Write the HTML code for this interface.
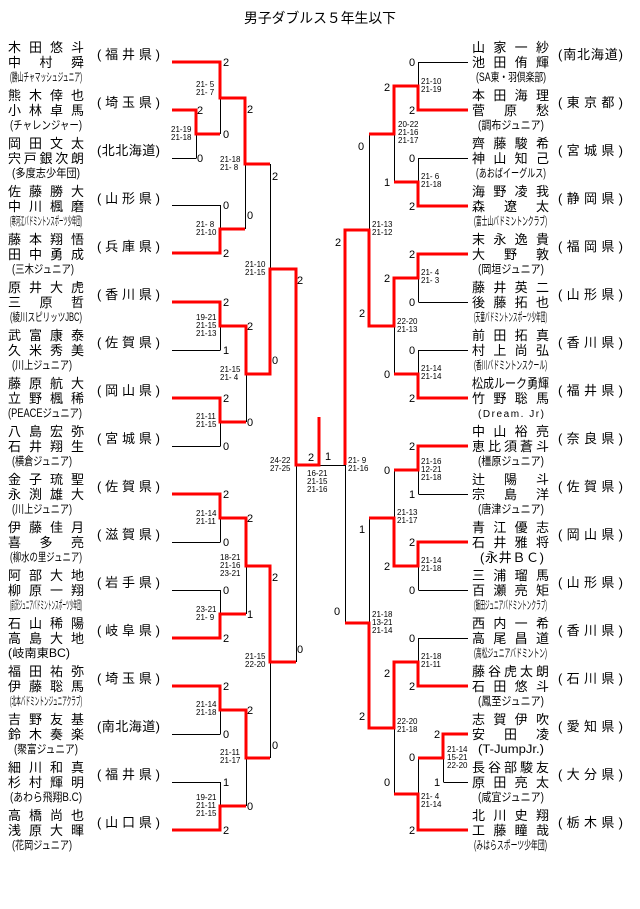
<!DOCTYPE html>
<html><head><meta charset="utf-8"><style>
html,body{margin:0;padding:0;background:#fff;width:640px;height:909px;overflow:hidden}
svg{display:block}
text{font-family:"Liberation Sans","Noto Sans CJK JP",sans-serif;fill:#000}
.n{font-size:13px}
.a{font-size:11.5px}
.p{font-size:13px}
.s{font-size:11px;text-anchor:middle}
.g{font-size:8px}
</style></head><body>
<svg width="640" height="909" viewBox="0 0 640 909" xmlns="http://www.w3.org/2000/svg">
<text x="244" y="23" font-size="14" textLength="152" lengthAdjust="spacingAndGlyphs">男子ダブルス５年生以下</text>

<path fill="none" stroke="#000" stroke-width="1" d="
M172 158.5H196.5 M196.5 134V158 M220.5 98V134 M172 205.5H220.5 M220.5 205V229 M245.5 164V229
M172 350.5H220.5 M220.5 326V350 M172 446.5H220.5 M220.5 422V446 M246.5 374V422 M270.5 164V269
M172 542.5H220.5 M220.5 518V542 M172 590.5H220.5 M220.5 590V614 M246.5 566V614
M172 734.5H220.5 M220.5 710V734 M172 782.5H220.5 M220.5 782V806 M246.5 758V806
M270.5 662V758 M296.5 465V662 M319 465.5H345
M468 62.5H418.5 M418.5 62V86 M468 158.5H418.5 M418.5 158V182 M394.5 134V182
M468 302.5H418.5 M418.5 278V302 M468 350.5H418.5 M418.5 350V374 M394.5 326V374 M369.5 134V230
M468 494.5H418.5 M418.5 470V494 M468 590.5H418.5 M418.5 566V590 M394.5 470V518
M468 638.5H418.5 M418.5 638V662 M468 782.5H443.5 M443.5 758V782 M418.5 758V794 M394.5 728V794
M369.5 518V623 M345.5 465V623"/>

<path fill="none" stroke="#f00" stroke-width="3" stroke-linejoin="miter" d="
M172 62H220V98H245V164H270
M172 110H196V134H220
M172 253H220V229H245
M172 302H220V326H246V374H270V269H296V465H319V417
M172 398H220V422H246
M172 494H220V518H246V566H270V662H296
M172 638H220V614H246
M172 686H220V710H246V758H270
M172 830H220V806H246
M468 110H418V86H394V134H369
M468 206H418V182H394
M468 254H418V278H394V326H369V230H345V465
M468 398H418V374H394
M468 446H418V470H394
M468 542H418V566H394V518H369
M468 686H418V662H394V728H369V623H345
M468 734H443V758H418
M468 830H418V794H394"/>

<g class="n">
<text x="8" y="52" textLength="76" lengthAdjust="spacing">木田悠斗</text><text x="8" y="67" textLength="76" lengthAdjust="spacing">中村舜</text>
<text x="8" y="100" textLength="76" lengthAdjust="spacing">熊木倖也</text><text x="8" y="115" textLength="76" lengthAdjust="spacing">小林卓馬</text>
<text x="8" y="148" textLength="76" lengthAdjust="spacing">岡田文太</text><text x="8" y="163" textLength="76" lengthAdjust="spacing">宍戸銀次朗</text>
<text x="8" y="196" textLength="76" lengthAdjust="spacing">佐藤勝大</text><text x="8" y="211" textLength="76" lengthAdjust="spacing">中川楓磨</text>
<text x="8" y="244" textLength="76" lengthAdjust="spacing">藤本翔悟</text><text x="8" y="259" textLength="76" lengthAdjust="spacing">田中勇成</text>
<text x="8" y="292" textLength="76" lengthAdjust="spacing">原井大虎</text><text x="8" y="307" textLength="76" lengthAdjust="spacing">三原哲</text>
<text x="8" y="340" textLength="76" lengthAdjust="spacing">武富康泰</text><text x="8" y="355" textLength="76" lengthAdjust="spacing">久米秀美</text>
<text x="8" y="388" textLength="76" lengthAdjust="spacing">藤原航大</text><text x="8" y="403" textLength="76" lengthAdjust="spacing">立野楓稀</text>
<text x="8" y="436" textLength="76" lengthAdjust="spacing">八島宏弥</text><text x="8" y="451" textLength="76" lengthAdjust="spacing">石井翔生</text>
<text x="8" y="484" textLength="76" lengthAdjust="spacing">金子琉聖</text><text x="8" y="499" textLength="76" lengthAdjust="spacing">永渕雄大</text>
<text x="8" y="532" textLength="76" lengthAdjust="spacing">伊藤佳月</text><text x="8" y="547" textLength="76" lengthAdjust="spacing">喜多亮</text>
<text x="8" y="580" textLength="76" lengthAdjust="spacing">阿部大地</text><text x="8" y="595" textLength="76" lengthAdjust="spacing">柳原一翔</text>
<text x="8" y="628" textLength="76" lengthAdjust="spacing">石山稀陽</text><text x="8" y="643" textLength="76" lengthAdjust="spacing">高島大地</text>
<text x="8" y="676" textLength="76" lengthAdjust="spacing">福田祐弥</text><text x="8" y="691" textLength="76" lengthAdjust="spacing">伊藤聡馬</text>
<text x="8" y="724" textLength="76" lengthAdjust="spacing">吉野友基</text><text x="8" y="739" textLength="76" lengthAdjust="spacing">鈴木奏楽</text>
<text x="8" y="772" textLength="76" lengthAdjust="spacing">細川和真</text><text x="8" y="787" textLength="76" lengthAdjust="spacing">杉村輝明</text>
<text x="8" y="820" textLength="76" lengthAdjust="spacing">高橋尚也</text><text x="8" y="835" textLength="76" lengthAdjust="spacing">浅原大暉</text>
</g>
<g class="a">
<text x="10" y="81" textLength="72" lengthAdjust="spacingAndGlyphs">(勝山チャマッシュジュニア)</text>
<text x="10" y="129" textLength="72" lengthAdjust="spacingAndGlyphs">(チャレンジャー)</text>
<text x="12" y="177" textLength="68" lengthAdjust="spacingAndGlyphs">(多度志少年団)</text>
<text x="10" y="225" textLength="72" lengthAdjust="spacingAndGlyphs">(寒河江バドミントンスポーツ少年団)</text>
<text x="12" y="273" textLength="62" lengthAdjust="spacingAndGlyphs">(三木ジュニア)</text>
<text x="10" y="321" textLength="72" lengthAdjust="spacingAndGlyphs">(綾川スピリッツJBC)</text>
<text x="12" y="369" textLength="60" lengthAdjust="spacingAndGlyphs">(川上ジュニア)</text>
<text x="8" y="417" textLength="74" lengthAdjust="spacingAndGlyphs">(PEACEジュニア)</text>
<text x="12" y="465" textLength="60" lengthAdjust="spacingAndGlyphs">(横倉ジュニア)</text>
<text x="12" y="513" textLength="60" lengthAdjust="spacingAndGlyphs">(川上ジュニア)</text>
<text x="10" y="561" textLength="72" lengthAdjust="spacingAndGlyphs">(柳水の里ジュニア)</text>
<text x="10" y="609" textLength="72" lengthAdjust="spacingAndGlyphs">(前沢ジュニアバドミントンスポーツ少年団)</text>
<text x="8" y="657" textLength="62" lengthAdjust="spacingAndGlyphs">(岐南東BC)</text>
<text x="10" y="705" textLength="72" lengthAdjust="spacingAndGlyphs">(北本バドミントンジュニアクラブ)</text>
<text x="14" y="753" textLength="64" lengthAdjust="spacingAndGlyphs">(聚富ジュニア)</text>
<text x="10" y="801" textLength="72" lengthAdjust="spacingAndGlyphs">(あわら飛翔B.C)</text>
<text x="12" y="849" textLength="60" lengthAdjust="spacingAndGlyphs">(花岡ジュニア)</text>
</g>
<g class="p">
<text x="97" y="59" textLength="63" lengthAdjust="spacing">(福井県)</text>
<text x="97" y="107" textLength="63" lengthAdjust="spacing">(埼玉県)</text>
<text x="97" y="155" textLength="63" lengthAdjust="spacing">(北北海道)</text>
<text x="97" y="203" textLength="63" lengthAdjust="spacing">(山形県)</text>
<text x="97" y="251" textLength="63" lengthAdjust="spacing">(兵庫県)</text>
<text x="97" y="299" textLength="63" lengthAdjust="spacing">(香川県)</text>
<text x="97" y="347" textLength="63" lengthAdjust="spacing">(佐賀県)</text>
<text x="97" y="395" textLength="63" lengthAdjust="spacing">(岡山県)</text>
<text x="97" y="443" textLength="63" lengthAdjust="spacing">(宮城県)</text>
<text x="97" y="491" textLength="63" lengthAdjust="spacing">(佐賀県)</text>
<text x="97" y="539" textLength="63" lengthAdjust="spacing">(滋賀県)</text>
<text x="97" y="587" textLength="63" lengthAdjust="spacing">(岩手県)</text>
<text x="97" y="635" textLength="63" lengthAdjust="spacing">(岐阜県)</text>
<text x="97" y="683" textLength="63" lengthAdjust="spacing">(埼玉県)</text>
<text x="97" y="731" textLength="63" lengthAdjust="spacing">(南北海道)</text>
<text x="97" y="779" textLength="63" lengthAdjust="spacing">(福井県)</text>
<text x="97" y="827" textLength="63" lengthAdjust="spacing">(山口県)</text>
</g>

<g class="n">
<text x="472" y="52" textLength="77" lengthAdjust="spacing">山家一紗</text><text x="472" y="67" textLength="77" lengthAdjust="spacing">池田侑輝</text>
<text x="472" y="100" textLength="77" lengthAdjust="spacing">本田海理</text><text x="472" y="115" textLength="77" lengthAdjust="spacing">菅原愁</text>
<text x="472" y="148" textLength="77" lengthAdjust="spacing">齊藤駿希</text><text x="472" y="163" textLength="77" lengthAdjust="spacing">神山知己</text>
<text x="472" y="196" textLength="77" lengthAdjust="spacing">海野凌我</text><text x="472" y="211" textLength="77" lengthAdjust="spacing">森遼太</text>
<text x="472" y="244" textLength="77" lengthAdjust="spacing">末永逸貴</text><text x="472" y="259" textLength="77" lengthAdjust="spacing">大野敦</text>
<text x="472" y="292" textLength="77" lengthAdjust="spacing">藤井英二</text><text x="472" y="307" textLength="77" lengthAdjust="spacing">後藤拓也</text>
<text x="472" y="340" textLength="77" lengthAdjust="spacing">前田拓真</text><text x="472" y="355" textLength="77" lengthAdjust="spacing">村上尚弘</text>
<text x="472" y="388" textLength="77" lengthAdjust="spacingAndGlyphs">松成ルーク勇輝</text><text x="472" y="403" textLength="77" lengthAdjust="spacing">竹野聡馬</text>
<text x="472" y="436" textLength="77" lengthAdjust="spacing">中山裕亮</text><text x="472" y="451" textLength="77" lengthAdjust="spacing">恵比須蒼斗</text>
<text x="472" y="484" textLength="77" lengthAdjust="spacing">辻陽斗</text><text x="472" y="499" textLength="77" lengthAdjust="spacing">宗島洋</text>
<text x="472" y="532" textLength="77" lengthAdjust="spacing">青江優志</text><text x="472" y="547" textLength="77" lengthAdjust="spacing">石井雅将</text>
<text x="472" y="580" textLength="77" lengthAdjust="spacing">三浦瑠馬</text><text x="472" y="595" textLength="77" lengthAdjust="spacing">百瀬亮矩</text>
<text x="472" y="628" textLength="77" lengthAdjust="spacing">西内一希</text><text x="472" y="643" textLength="77" lengthAdjust="spacing">高尾昌道</text>
<text x="472" y="676" textLength="77" lengthAdjust="spacing">藤谷虎太朗</text><text x="472" y="691" textLength="77" lengthAdjust="spacing">石田悠斗</text>
<text x="472" y="724" textLength="77" lengthAdjust="spacing">志賀伊吹</text><text x="472" y="739" textLength="77" lengthAdjust="spacing">安田凌</text>
<text x="472" y="772" textLength="77" lengthAdjust="spacing">長谷部駿友</text><text x="472" y="787" textLength="77" lengthAdjust="spacing">原田亮太</text>
<text x="472" y="820" textLength="77" lengthAdjust="spacing">北川史翔</text><text x="472" y="835" textLength="77" lengthAdjust="spacing">工藤瞳哉</text>
</g>
<g class="a">
<text x="476" y="81" textLength="70" lengthAdjust="spacingAndGlyphs">(SA東・羽倶楽部)</text>
<text x="478" y="129" textLength="66" lengthAdjust="spacingAndGlyphs">(調布ジュニア)</text>
<text x="476" y="177" textLength="70" lengthAdjust="spacingAndGlyphs">(あおばイーグルス)</text>
<text x="474" y="225" textLength="73" lengthAdjust="spacingAndGlyphs">(富士山バドミントンクラブ)</text>
<text x="478" y="273" textLength="66" lengthAdjust="spacingAndGlyphs">(岡垣ジュニア)</text>
<text x="474" y="321" textLength="73" lengthAdjust="spacingAndGlyphs">(天童バドミントンスポーツ少年団)</text>
<text x="474" y="369" textLength="73" lengthAdjust="spacingAndGlyphs">(香川バドミントンスクール)</text>
<text x="478" y="417" font-size="10" textLength="66" lengthAdjust="spacing">(Dream. Jr)</text>
<text x="478" y="465" textLength="66" lengthAdjust="spacingAndGlyphs">(橿原ジュニア)</text>
<text x="478" y="513" textLength="66" lengthAdjust="spacingAndGlyphs">(唐津ジュニア)</text>
<text x="480" y="562" font-size="13" textLength="64" lengthAdjust="spacing">(永井ＢＣ)</text>
<text x="474" y="609" textLength="73" lengthAdjust="spacingAndGlyphs">(飯田ジュニアバドミントンクラブ)</text>
<text x="474" y="657" textLength="73" lengthAdjust="spacingAndGlyphs">(高松ジュニアバドミントン)</text>
<text x="478" y="705" textLength="66" lengthAdjust="spacingAndGlyphs">(鳳至ジュニア)</text>
<text x="478" y="753" textLength="66" lengthAdjust="spacingAndGlyphs">(T-JumpJr.)</text>
<text x="478" y="801" textLength="66" lengthAdjust="spacingAndGlyphs">(咸宜ジュニア)</text>
<text x="474" y="849" textLength="73" lengthAdjust="spacingAndGlyphs">(みはらスポーツ少年団)</text>
</g>
<g class="p">
<text x="558" y="59" textLength="65" lengthAdjust="spacing">(南北海道)</text>
<text x="558" y="107" textLength="65" lengthAdjust="spacing">(東京都)</text>
<text x="558" y="155" textLength="65" lengthAdjust="spacing">(宮城県)</text>
<text x="558" y="203" textLength="65" lengthAdjust="spacing">(静岡県)</text>
<text x="558" y="251" textLength="65" lengthAdjust="spacing">(福岡県)</text>
<text x="558" y="299" textLength="65" lengthAdjust="spacing">(山形県)</text>
<text x="558" y="347" textLength="65" lengthAdjust="spacing">(香川県)</text>
<text x="558" y="395" textLength="65" lengthAdjust="spacing">(福井県)</text>
<text x="558" y="443" textLength="65" lengthAdjust="spacing">(奈良県)</text>
<text x="558" y="491" textLength="65" lengthAdjust="spacing">(佐賀県)</text>
<text x="558" y="539" textLength="65" lengthAdjust="spacing">(岡山県)</text>
<text x="558" y="587" textLength="65" lengthAdjust="spacing">(山形県)</text>
<text x="558" y="635" textLength="65" lengthAdjust="spacing">(香川県)</text>
<text x="558" y="683" textLength="65" lengthAdjust="spacing">(石川県)</text>
<text x="558" y="731" textLength="65" lengthAdjust="spacing">(愛知県)</text>
<text x="558" y="779" textLength="65" lengthAdjust="spacing">(大分県)</text>
<text x="558" y="827" textLength="65" lengthAdjust="spacing">(栃木県)</text>
</g>

<g class="s">
<text x="226" y="66">2</text><text x="226" y="138">0</text><text x="200" y="114">2</text><text x="200" y="162">0</text>
<text x="250" y="113">2</text><text x="226" y="209">0</text><text x="250" y="219">0</text><text x="226" y="257">2</text><text x="275" y="180">2</text>
<text x="300" y="284">2</text><text x="226" y="306">2</text><text x="226" y="354">1</text><text x="250" y="330">2</text><text x="275" y="364">0</text>
<text x="226" y="402">2</text><text x="250" y="426">0</text><text x="226" y="450">0</text>
<text x="311" y="461">2</text><text x="328" y="460">1</text>
<text x="226" y="498">2</text><text x="250" y="522">2</text><text x="226" y="546">0</text><text x="275" y="581">2</text><text x="226" y="594">0</text>
<text x="250" y="618">1</text><text x="226" y="642">2</text><text x="300" y="653">0</text>
<text x="226" y="690">2</text><text x="250" y="714">2</text><text x="226" y="738">0</text><text x="275" y="749">0</text><text x="226" y="786">1</text>
<text x="250" y="810">0</text><text x="226" y="834">2</text>

<text x="412" y="66">0</text><text x="387" y="91">2</text><text x="412" y="114">2</text><text x="361" y="150">0</text><text x="412" y="162">0</text>
<text x="387" y="186">1</text><text x="412" y="210">2</text><text x="338" y="246">2</text><text x="412" y="258">2</text><text x="387" y="282">2</text>
<text x="412" y="306">0</text><text x="362" y="317">2</text><text x="412" y="354">0</text><text x="387" y="378">0</text><text x="412" y="402">2</text>
<text x="412" y="450">2</text><text x="387" y="474">0</text><text x="412" y="498">1</text><text x="362" y="533">1</text><text x="412" y="546">2</text>
<text x="387" y="570">2</text><text x="412" y="594">0</text><text x="337" y="615">0</text><text x="412" y="642">0</text><text x="387" y="677">2</text>
<text x="412" y="690">2</text><text x="362" y="720">2</text><text x="437" y="738">2</text><text x="412" y="761">0</text><text x="437" y="786">1</text>
<text x="387" y="786">0</text><text x="412" y="834">2</text>
</g>

<g class="g">
<text x="196" y="87">21- 5</text><text x="196" y="95">21- 7</text>
<text x="171" y="132">21-19</text><text x="171" y="140">21-18</text>
<text x="220" y="162">21-18</text><text x="220" y="170">21- 8</text>
<text x="196" y="227">21- 8</text><text x="196" y="235">21-10</text>
<text x="245" y="267">21-10</text><text x="245" y="275">21-15</text>
<text x="196" y="320">19-21</text><text x="196" y="328">21-15</text><text x="196" y="336">21-13</text>
<text x="220" y="372">21-15</text><text x="220" y="380">21- 4</text>
<text x="196" y="419">21-11</text><text x="196" y="427">21-15</text>
<text x="270" y="463">24-22</text><text x="270" y="471">27-25</text>
<text x="307" y="476">16-21</text><text x="307" y="484">21-15</text><text x="307" y="492">21-16</text>
<text x="196" y="516">21-14</text><text x="196" y="524">21-11</text>
<text x="220" y="560">18-21</text><text x="220" y="568">21-16</text><text x="220" y="576">23-21</text>
<text x="196" y="612">23-21</text><text x="196" y="620">21- 9</text>
<text x="245" y="659">21-15</text><text x="245" y="667">22-20</text>
<text x="196" y="707">21-14</text><text x="196" y="715">21-18</text>
<text x="220" y="755">21-11</text><text x="220" y="763">21-17</text>
<text x="196" y="800">19-21</text><text x="196" y="808">21-11</text><text x="196" y="816">21-15</text>

<text x="421" y="84">21-10</text><text x="421" y="92">21-19</text>
<text x="398" y="127">20-22</text><text x="398" y="135">21-16</text><text x="398" y="143">21-17</text>
<text x="421" y="179">21- 6</text><text x="421" y="187">21-18</text>
<text x="372" y="227">21-13</text><text x="372" y="235">21-12</text>
<text x="421" y="275">21- 4</text><text x="421" y="283">21- 3</text>
<text x="397" y="324">22-20</text><text x="397" y="332">21-13</text>
<text x="421" y="371">21-14</text><text x="421" y="379">21-14</text>
<text x="348" y="463">21- 9</text><text x="348" y="471">21-16</text>
<text x="421" y="464">21-16</text><text x="421" y="472">12-21</text><text x="421" y="480">21-18</text>
<text x="397" y="515">21-13</text><text x="397" y="523">21-17</text>
<text x="421" y="563">21-14</text><text x="421" y="571">21-18</text>
<text x="372" y="617">21-18</text><text x="372" y="625">13-21</text><text x="372" y="633">21-14</text>
<text x="421" y="659">21-18</text><text x="421" y="667">21-11</text>
<text x="397" y="724">22-20</text><text x="397" y="732">21-18</text>
<text x="447" y="752">21-14</text><text x="447" y="760">15-21</text><text x="447" y="768">22-20</text>
<text x="421" y="799">21- 4</text><text x="421" y="807">21-14</text>
</g>
</svg>
</body></html>
